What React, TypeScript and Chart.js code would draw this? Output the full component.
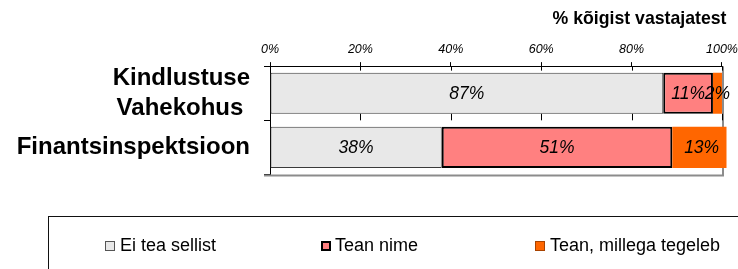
import React, { useEffect, useRef } from 'react';
import { Chart, registerables } from 'chart.js';

Chart.register(...registerables);

// ---- data ----
const categories: (string | string[])[] = [['Kindlustuse', 'Vahekohus '], 'Finantsinspektsioon'];
const seriesNames = ['Ei tea sellist', 'Tean nime', 'Tean, millega tegeleb'];
const eiTeaSellist = [87, 38];
const teanNime = [11, 51];
const teanMillegaTegeleb = [2, 13];
const xTickValues = [0, 20, 40, 60, 80, 100];
const axisTitle = '% kõigist vastajatest';

// ---- styles ----
const FONT = '"Liberation Sans", Arial, sans-serif';
const seriesStyles = [
  { bg: '#E8E8E8', border: '#3a3a3a', width: 1, legendBorder: '1px solid #555' },
  { bg: '#FF8080', border: '#000000', width: 2, legendBorder: '2px solid #000' },
  { bg: '#FF6600', border: '#FF6600', width: 0, legendBorder: '1px solid #A84300' },
];
const legendBoxLeft = [105, 321, 535];
const legendTextLeft = [120, 335, 550];

const seriesValues = [eiTeaSellist, teanNime, teanMillegaTegeleb];

const plotDecor = {
  id: 'plotDecor',
  beforeDatasetsDraw(chart: any) {
    const { ctx, chartArea, scales } = chart;
    const x = scales.x;
    const right = Math.round(x.getPixelForValue(100)) + 1;
    ctx.save();
    ctx.strokeStyle = '#8c8c8c';
    ctx.lineWidth = 2;
    ctx.beginPath();
    ctx.moveTo(right, chartArea.top);
    ctx.lineTo(right, chartArea.bottom + 1);
    ctx.lineTo(chartArea.left - 6, chartArea.bottom + 1);
    ctx.stroke();
    ctx.restore();
  },
  afterDatasetsDraw(chart: any) {
    const { ctx, chartArea, scales } = chart;
    const x = scales.x;
    const y = scales.y;
    ctx.save();
    ctx.strokeStyle = '#000';
    ctx.lineWidth = 1;
    // top axis line from 0% to 100%
    const top = Math.round(chartArea.top) + 0.5;
    ctx.beginPath();
    ctx.moveTo(x.getPixelForValue(0), top);
    ctx.lineTo(x.getPixelForValue(100) + 0.5, top);
    ctx.stroke();
    // inner tick marks
    const boundary = (y.getPixelForValue(0) + y.getPixelForValue(1)) / 2;
    xTickValues.forEach((v) => {
      const px = Math.round(x.getPixelForValue(v)) + 0.5;
      ctx.beginPath();
      ctx.moveTo(px, chartArea.top);
      ctx.lineTo(px, chartArea.top + 4.5);
      ctx.moveTo(px, boundary - 6.5);
      ctx.lineTo(px, boundary);
      ctx.stroke();
    });
    // data labels
    ctx.font = `italic 17.5px ${FONT}`;
    ctx.fillStyle = '#000';
    ctx.textAlign = 'center';
    ctx.textBaseline = 'middle';
    chart.data.datasets.forEach((ds: any, di: number) => {
      const meta = chart.getDatasetMeta(di);
      meta.data.forEach((el: any, i: number) => {
        const p = el.getProps(['x', 'y', 'base'], true);
        ctx.fillText(`${ds.data[i]}%`, (p.x + p.base) / 2, p.y + 0.5);
      });
    });
    ctx.restore();
  },
};

export default function App() {
  const ref = useRef<HTMLCanvasElement | null>(null);

  useEffect(() => {
    if (!ref.current) return;
    const chart = new Chart(ref.current, {
      type: 'bar',
      data: {
        labels: categories as any,
        datasets: seriesNames.map((name, i) => ({
          label: name,
          data: seriesValues[i],
          backgroundColor: seriesStyles[i].bg,
          borderColor: seriesStyles[i].border,
          borderWidth: seriesStyles[i].width,
          borderSkipped: false,
          barPercentage: 0.76,
          categoryPercentage: 1,
        })),
      },
      options: {
        indexAxis: 'y',
        responsive: false,
        animation: false,
        devicePixelRatio: 1,
        layout: { padding: { top: 0, left: 0, right: 11.5, bottom: 94.5 } },
        plugins: {
          legend: { display: false },
          tooltip: { enabled: false },
          title: {
            display: true,
            text: axisTitle,
            align: 'end',
            color: '#000',
            font: { family: FONT, size: 17.7, weight: 'bold', lineHeight: 1.2 },
            padding: { top: 8, bottom: 0 },
          },
        },
        scales: {
          x: {
            type: 'linear',
            position: 'top',
            stacked: true,
            min: 0,
            max: 101,
            afterBuildTicks: (s: any) => {
              s.ticks = xTickValues.map((v) => ({ value: v }));
            },
            ticks: {
              callback: (v: any) => `${v}%`,
              color: '#000',
              font: { family: FONT, size: 12.5, style: 'italic' },
              padding: 5,
              maxRotation: 0,
              autoSkip: false,
            },
            grid: { drawOnChartArea: false, drawTicks: true, tickLength: 4, color: '#000', lineWidth: 1 },
            border: { display: false },
            afterFit: (s: any) => {
              s.height = 36.9;
              s.paddingLeft = 0;
              s.paddingRight = 0;
            },
          },
          y: {
            type: 'category',
            position: 'left',
            stacked: true,
            offset: true,
            ticks: {
              color: '#000',
              font: { family: FONT, size: 24, weight: 'bold', lineHeight: 1.25 },
              padding: 14,
              crossAlign: 'near',
              autoSkip: false,
            },
            grid: { drawOnChartArea: false, tickLength: 6, color: '#000', offset: true },
            border: { display: true, color: '#000', width: 1 },
            afterFit: (s: any) => {
              s.width = 270;
              s.paddingTop = 0;
              s.paddingBottom = 0;
            },
          },
        },
      } as any,
      plugins: [plotDecor],
    });
    return () => chart.destroy();
  }, []);

  return (
    <div
      style={{
        position: 'fixed',
        left: 0,
        top: 0,
        width: 738,
        height: 269,
        overflow: 'hidden',
        background: '#fff',
      }}
    >
      <canvas ref={ref} width={738} height={269} style={{ position: 'absolute', left: 0, top: 0 }} />
      <div
        style={{
          position: 'absolute',
          left: 48,
          top: 216,
          width: 760,
          height: 120,
          border: '1px solid #111',
          boxSizing: 'border-box',
        }}
      />
      {seriesNames.map((name, i) => (
        <React.Fragment key={name}>
          <div
            style={{
              position: 'absolute',
              left: legendBoxLeft[i],
              top: 241,
              width: 10,
              height: 10,
              boxSizing: 'border-box',
              background: seriesStyles[i].bg,
              border: seriesStyles[i].legendBorder,
            }}
          />
          <span
            style={{
              position: 'absolute',
              left: legendTextLeft[i],
              top: 235,
              fontFamily: FONT,
              fontSize: 18,
              lineHeight: '21px',
              color: '#000',
              whiteSpace: 'nowrap',
            }}
          >
            {name}
          </span>
        </React.Fragment>
      ))}
    </div>
  );
}
